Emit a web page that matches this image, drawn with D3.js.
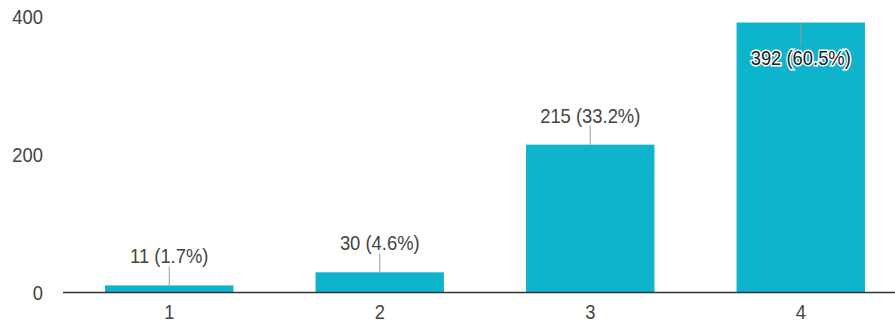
<!DOCTYPE html>
<html>
<head>
<meta charset="utf-8">
<script src="https://cdn.jsdelivr.net/npm/d3@7"></script>
<style>
  body { margin: 0; background: #fff; }
  text { font-family: "Liberation Sans", Arial, sans-serif; fill: #444; font-size: 20px; }
</style>
</head>
<body>
<div id="main"></div>
<script>
const W = 895;
const H = 323;
const SQUEEZE = 0.92; // the picture's text is a bit narrower than Arial

// data
var categories = ["1", "2", "3", "4"];
var counts = [11, 30, 215, 392];
var percents = ["1.7%", "4.6%", "33.2%", "60.5%"];
var yTicks = [0, 200, 400];

var BAR_COLOR = "#0db4cc";

var svg = d3.select("#main").append("svg")
    .attr("width", W)
    .attr("height", H);

var x = d3.scaleBand()
    .domain(categories)
    .range([64, 906])
    .paddingInner(0.39)
    .paddingOuter(0.195);

var y = d3.scaleLinear().domain([0, 400]).range([293, 17]);

var place = function(px, py){
    return "translate(" + px + "," + py + ") scale(" + SQUEEZE + ",1)";
};

// y tick labels (no gridlines in this chart)
svg.append("g")
    .selectAll("text")
    .data(yTicks)
    .enter()
    .append("text")
    .attr("transform", function(d){ return place(43, y(d)); })
    .attr("dy", "0.36em")
    .attr("text-anchor", "end")
    .text(function(d){ return d; });

var rows = categories.map(function(c, i){
    return {cat: c, n: counts[i], pct: percents[i]};
});

svg.append("g")
    .selectAll("rect")
    .data(rows)
    .enter()
    .append("rect")
    .attr("x", function(d){ return x(d.cat); })
    .attr("width", x.bandwidth())
    .attr("y", function(d){ return y(d.n); })
    .attr("height", function(d){ return y(0) - y(d.n); })
    .style("fill", BAR_COLOR);

// baseline
svg.append("line")
    .attr("x1", 63).attr("x2", W)
    .attr("y1", y(0) - 0.5).attr("y2", y(0) - 0.5)
    .style("stroke", "#333")
    .style("stroke-width", 1.5);

// x labels
svg.append("g")
    .selectAll("text")
    .data(categories)
    .enter()
    .append("text")
    .attr("transform", function(d){ return place(x(d) + x.bandwidth() / 2, 319); })
    .attr("text-anchor", "middle")
    .text(function(d){ return d; });

// annotations: above the bar, or inside it when there is no room
var inside = function(d){ return y(d.n) < 60; };
var mid = function(d){ return x(d.cat) + x.bandwidth() / 2; };

var ann = svg.append("g")
    .selectAll("g")
    .data(rows)
    .enter()
    .append("g");

ann.append("line")
    .attr("x1", mid)
    .attr("x2", mid)
    .attr("y1", function(d){ return y(d.n); })
    .attr("y2", function(d){ return inside(d) ? y(d.n) + 23 : y(d.n) - 19; })
    .style("stroke", "#999")
    .style("stroke-width", 1);

ann.append("text")
    .attr("transform", function(d){
        return place(mid(d), inside(d) ? y(d.n) + 42 : y(d.n) - 22);
    })
    .attr("text-anchor", "middle")
    .style("stroke", function(d){ return inside(d) ? "#fff" : "none"; })
    .style("stroke-width", 3)
    .style("paint-order", "stroke")
    .style("fill", function(d){ return inside(d) ? "#222" : "#444"; })
    .text(function(d){ return d.n + " (" + d.pct + ")"; });
</script>
</body>
</html>
